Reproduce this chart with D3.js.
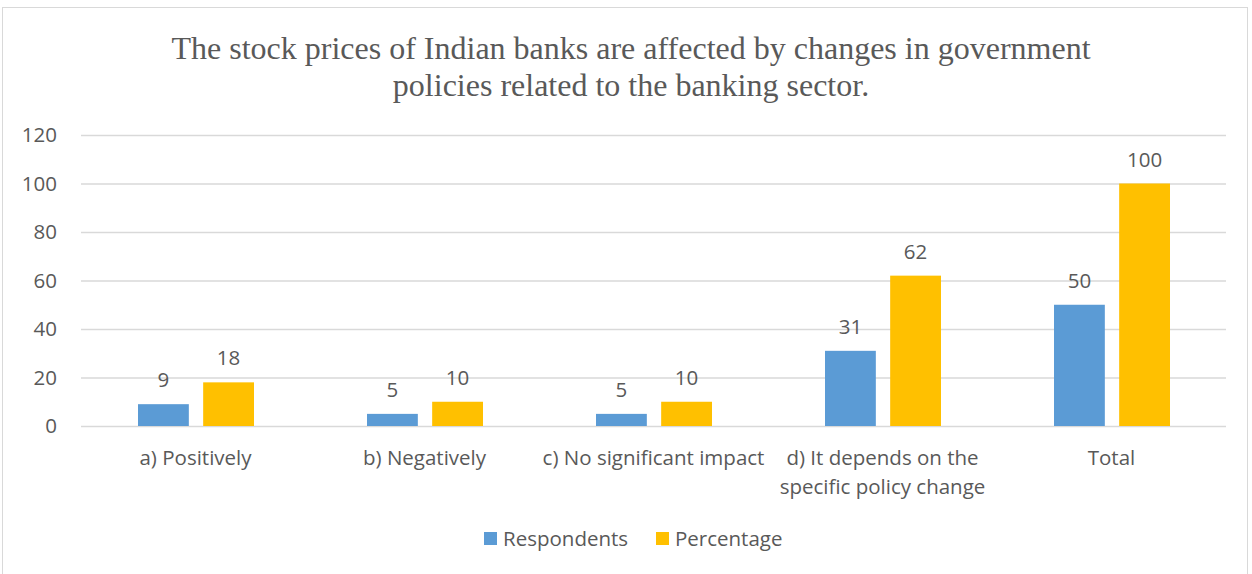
<!DOCTYPE html>
<html>
<head>
<meta charset="utf-8">
<script src="https://cdn.jsdelivr.net/npm/d3@7"></script>
<style>
  body { margin: 0; background: #fff; }
  text { fill: #595959; }
</style>
</head>
<body>
<div id="chart"></div>
<script>
// chart data
let categories = ["a) Positively", "b) Negatively", "c) No significant impact",
    "d) It depends on the specific policy change", "Total"];
let categoryLines = [["a) Positively"], ["b) Negatively"], ["c) No significant impact"],
    ["d) It depends on the", "specific policy change"], ["Total"]];
let seriesNames = ["Respondents", "Percentage"];
let respondents = [9, 5, 5, 31, 50];
let percentage = [18, 10, 10, 62, 100];
let yTicks = [0, 20, 40, 60, 80, 100, 120];
let colors = ["#5B9BD5", "#FFC000"];
let titleLines = ["The stock prices of Indian banks are affected by changes in government",
    "policies related to the banking sector."];

let width = 1252, height = 574;
let margin = { top: 135, right: 26, bottom: 148, left: 81 };
let innerW = width - margin.left - margin.right,
    innerH = height - margin.top - margin.bottom;

let sans = "'Open Sans', Lato, sans-serif";
let fs = "20.5px";

let svg = d3.select("#chart").append("svg")
    .attr("width", width)
    .attr("height", height);

// outer chart border
svg.append("rect")
    .attr("x", 2.5).attr("y", 7.5)
    .attr("width", 1245).attr("height", 580)
    .attr("fill", "none")
    .attr("stroke", "#d9d9d9");

// title
svg.append("text")
    .attr("text-anchor", "middle")
    .style("font-family", "'Liberation Serif', 'Times New Roman', serif")
    .style("font-size", "32px")
    .selectAll("tspan")
    .data(titleLines)
    .enter().append("tspan")
    .attr("x", 631)
    .attr("y", (d, i) => 59 + i * 37)
    .text(d => d);

let g = svg.append("g")
    .attr("transform", "translate(" + margin.left + "," + margin.top + ")");

let x0 = d3.scaleBand()
    .domain(categories)
    .range([0, innerW]);

let x1 = d3.scaleBand()
    .domain(seriesNames)
    .range([57, x0.bandwidth() - 56])
    .paddingInner(0.22);

let y = d3.scaleLinear()
    .domain([0, 120])
    .range([innerH, 0]);

// gridlines + y labels
let yAxis = d3.axisLeft(y)
    .tickValues(yTicks)
    .tickSize(-innerW)
    .tickPadding(24);

let yg = g.append("g").call(yAxis);
yg.select(".domain").remove();
yg.selectAll("line").attr("stroke", "#d9d9d9").attr("stroke-width", 1.5);
yg.selectAll("text")
    .style("font-family", sans)
    .style("font-size", fs)
    .attr("fill", "#595959");

let data = categories.map((c, i) => ({ cat: c, values: [
    { key: "Respondents", v: respondents[i] },
    { key: "Percentage", v: percentage[i] }
]}));

let groups = g.selectAll(".cat")
    .data(data)
    .enter().append("g")
    .attr("class", "cat")
    .attr("transform", d => "translate(" + x0(d.cat) + ",0)");

groups.selectAll("rect")
    .data(d => d.values)
    .enter().append("rect")
    .attr("x", d => x1(d.key))
    .attr("y", d => y(d.v))
    .attr("width", x1.bandwidth())
    .attr("height", d => innerH - y(d.v))
    .attr("fill", (d, i) => colors[i]);

groups.selectAll(".val")
    .data(d => d.values)
    .enter().append("text")
    .attr("class", "val")
    .attr("x", d => x1(d.key) + x1.bandwidth() / 2)
    .attr("y", d => y(d.v) - 17)
    .attr("text-anchor", "middle")
    .style("font-family", sans)
    .style("font-size", fs)
    .text(d => d.v);

// category labels
groups.append("text")
    .attr("text-anchor", "middle")
    .style("font-family", sans)
    .style("font-size", fs)
    .selectAll("tspan")
    .data((d, i) => categoryLines[i])
    .enter().append("tspan")
    .attr("x", x0.bandwidth() / 2)
    .attr("y", (d, i) => innerH + 39 + i * 29)
    .text(d => d);

// legend
let legend = svg.append("g")
    .attr("transform", "translate(484,532)");

let legendX = [0, 172];
seriesNames.forEach((s, i) => {
    legend.append("rect")
        .attr("x", legendX[i]).attr("y", 0)
        .attr("width", 13).attr("height", 13)
        .attr("fill", colors[i]);
    legend.append("text")
        .attr("x", legendX[i] + 19).attr("y", 14)
        .style("font-family", sans)
        .style("font-size", fs)
        .text(s);
});
</script>
</body>
</html>
